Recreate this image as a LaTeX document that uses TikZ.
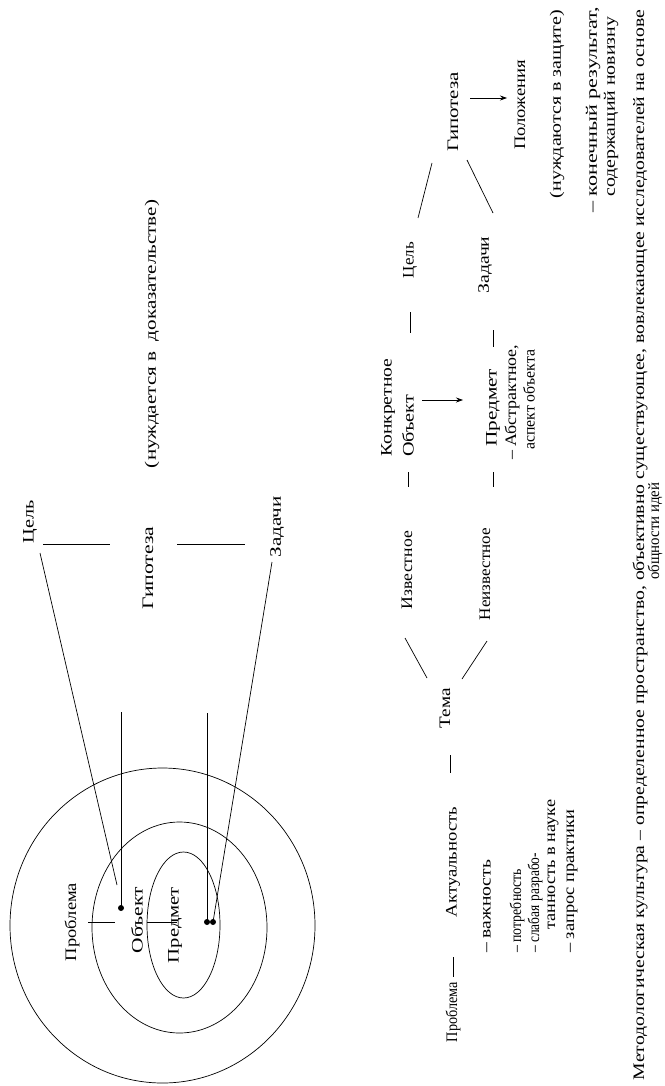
\documentclass[tikz,border=0pt]{standalone}
\usepackage{fontspec}
\setmainfont{Liberation Serif}
\usepackage{graphicx}
\usetikzlibrary{arrows.meta}
\newcommand{\fitw}[2]{\resizebox{#1pt}{\height}{#2}}
\begin{document}
\begin{tikzpicture}[x=1pt,y=-1pt,
  lab/.style={rotate=90, inner sep=0pt, font=\fontsize{16}{18}\selectfont},
  ln/.style={line width=0.7pt},
  arr/.style={line width=0.7pt, -{Stealth[length=7pt,width=5pt]}},
  dotn/.style={circle, fill, inner sep=0pt, minimum size=6pt}]
\useasboundingbox (0,0) rectangle (664,1086);
% ---------- left diagram ----------
\draw[ln] (162.5,925.5) ellipse [x radius=152.5pt, y radius=157.5pt];
\draw[ln] (179.5,927.5) ellipse [x radius=87.5pt, y radius=105.5pt];
\draw[ln] (183.5,925) ellipse [x radius=36.5pt, y radius=73pt];
\node[lab] (cel) at (30,522) {\fitw{43}{Цель}};
\node[lab] (gip) at (148,568) {\fitw{83}{Гипотеза}};
\node[lab] (zad) at (277,527) {\fitw{61}{Задачи}};
\node[lab] (nuzh) at (152,334) {\fitw{268}{(нуждается в~~доказательстве)}};
\node[lab] (probl) at (72,922) {\fitw{78}{Проблема}};
\node[lab] (obj) at (137,920) {\fitw{66}{Объект}};
\node[lab] (pred) at (175,925) {\fitw{76}{Предмет}};
\node[dotn] (d1) at (121,908) {};
\node[dotn] (d2) at (207,922) {};
\node[dotn] (d3) at (213,922) {};
\coordinate (v1) at (121,712);
\coordinate (v2) at (207,713);
\coordinate (s1a) at (40,553);
\coordinate (s1b) at (117,885);
\coordinate (s2a) at (272,562);
\coordinate (h1a) at (43,544);
\coordinate (h1b) at (110,544);
\coordinate (h2a) at (177,544);
\coordinate (h2b) at (245,544);
\coordinate (t1a) at (88,922);
\coordinate (t1b) at (115,922);
\coordinate (t2a) at (147,922);
\coordinate (t2b) at (177,922);
\draw[ln] (v1) -- (d1.center);
\draw[ln] (v2) -- (d2.center);
\draw[ln] (s1a) -- (s1b);
\draw[ln] (s2a) -- (d3.center);
\draw[ln] (h1a) -- (h1b);
\draw[ln] (h2a) -- (h2b);
\draw[ln] (t1a) -- (t1b);
\draw[ln] (t2a) -- (t2b);
% ---------- right diagram ----------
\node[lab] (p2) at (453,1012) {\fitw{60}{Проблема}};
\node[lab] (akt) at (453,862) {\fitw{110}{Актуальность}};
\node[lab] (tema) at (445,708) {\fitw{40}{Тема}};
\node[lab] (izv) at (407,570) {\fitw{78}{Известное}};
\node[lab] (neizv) at (485,574) {\fitw{92}{Неизвестное}};
\node[lab,anchor=west] (konk) at (388,457) {\fitw{98}{Конкретное}};
\node[lab,anchor=west] (obj2) at (408,457) {\fitw{62}{Объект}};
\node[lab,anchor=west] (pred2) at (493,447) {\fitw{78}{Предмет}};
\node[lab,anchor=west] (abs) at (512,460) {\fitw{115}{– Абстрактное,}};
\node[lab,anchor=west] (asp) at (529,450) {\fitw{100}{аспект объекта}};
\node[lab] (cel2) at (410,260) {\fitw{36}{Цель}};
\node[lab] (zad2) at (485,265) {\fitw{57}{Задачи}};
\node[lab] (gip2) at (453,112) {\fitw{80}{Гипотеза}};
\node[lab] (pol) at (520,105) {\fitw{90}{Положения}};
\node[lab] (nz2) at (557,104) {\fitw{188}{(нуждаются в защите)}};
\node[lab,anchor=west] (kon) at (593,213) {\fitw{206}{– конечный результат,}};
\node[lab,anchor=west] (sod) at (611,197) {\fitw{180}{содержащий новизну}};
\node[lab,anchor=west] (l1) at (487,953) {\fitw{93}{– важность}};
\node[lab,anchor=west] (l2) at (517,953) {\fitw{84}{– потребность}};
\node[lab,anchor=west] (l3) at (535,953) {\fitw{100}{– слабая разрабо-}};
\node[lab,anchor=west] (l4) at (553,930) {\fitw{130}{танность в науке}};
\node[lab,anchor=west] (l5) at (572,953) {\fitw{143}{– запрос практики}};
\node[lab] (met) at (640,545) {\fitw{1070}{Методологическая культура – определенное пространство, объективно существующее, вовлекающее исследователей на основе}};
\node[lab] (obsh) at (655,531) {\fitw{97}{общности идей}};
% connectors
\coordinate (a1) at (453,957); \coordinate (a2) at (453,977);
\coordinate (b1) at (450,755); \coordinate (b2) at (450,773);
\coordinate (c1) at (405,638); \coordinate (c2) at (427,678);
\coordinate (e1) at (462,679); \coordinate (e2) at (487,641);
\coordinate (f1) at (408,472); \coordinate (f2) at (408,487);
\coordinate (g1) at (493,472); \coordinate (g2) at (493,487);
\coordinate (k1) at (422,400); \coordinate (k2) at (463,400);
\coordinate (m1) at (410,312); \coordinate (m2) at (410,333);
\coordinate (n1) at (493,330); \coordinate (n2) at (493,347);
\coordinate (o1) at (418,218); \coordinate (o2) at (432,163);
\coordinate (q1) at (467,160); \coordinate (q2) at (493,213);
\coordinate (r1) at (470,98);  \coordinate (r2) at (507,98);
\draw[ln] (a1) -- (a2);
\draw[ln] (b1) -- (b2);
\draw[ln] (c1) -- (c2);
\draw[ln] (e1) -- (e2);
\draw[ln] (f1) -- (f2);
\draw[ln] (g1) -- (g2);
\draw[arr] (k1) -- (k2);
\draw[ln] (m1) -- (m2);
\draw[ln] (n1) -- (n2);
\draw[ln] (o1) -- (o2);
\draw[ln] (q1) -- (q2);
\draw[arr] (r1) -- (r2);
\end{tikzpicture}
\end{document}
